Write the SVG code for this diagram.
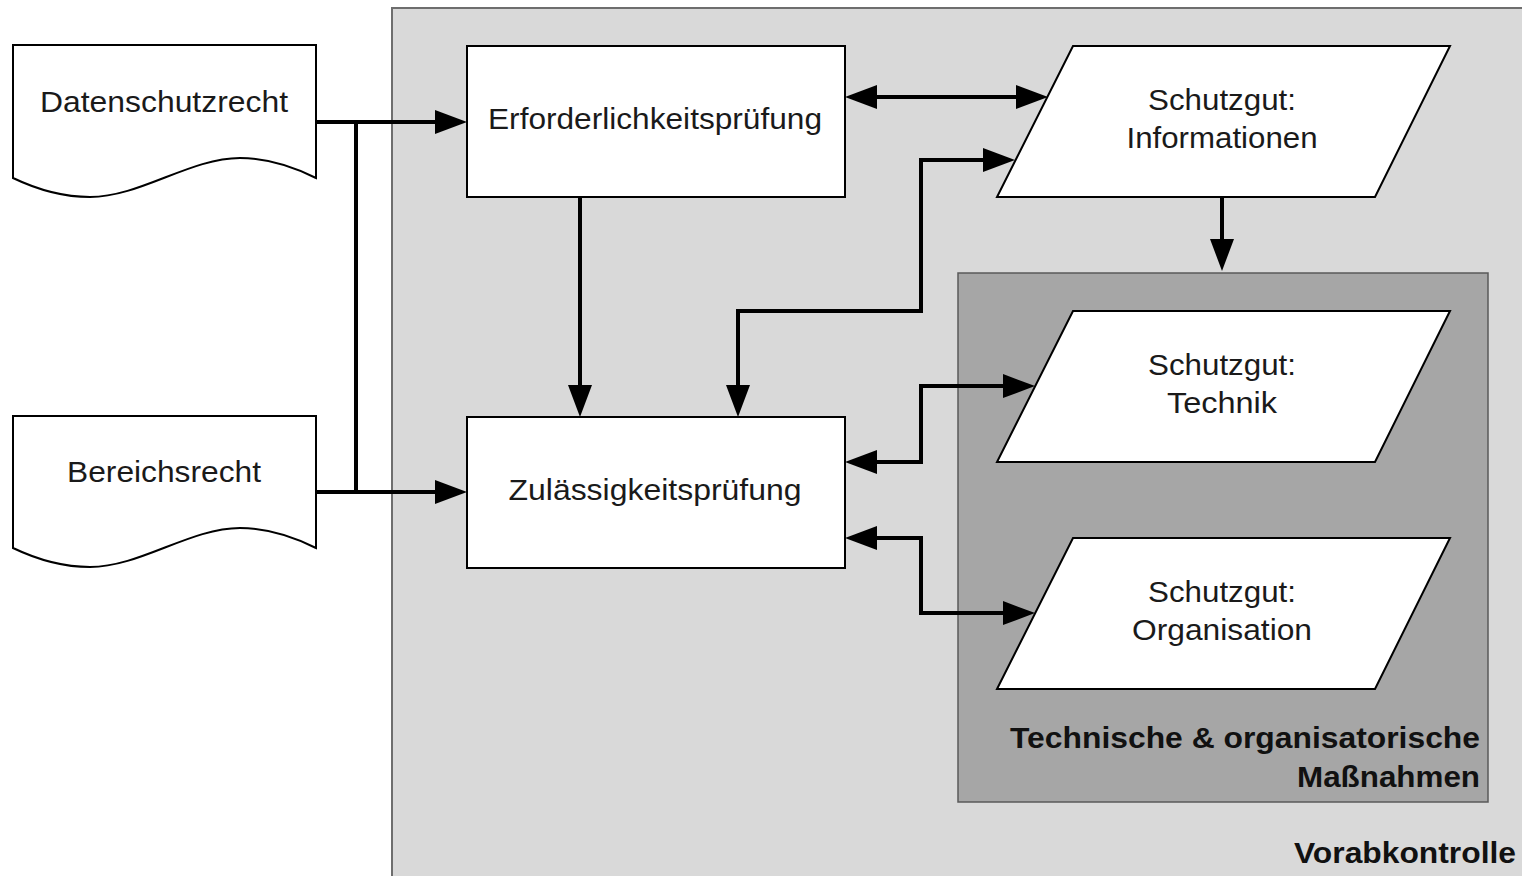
<svg xmlns="http://www.w3.org/2000/svg" width="1522" height="876" viewBox="0 0 1522 876">
<style>
.node{fill:#fff;stroke:#000;stroke-width:2}
.lbl{font-family:"Liberation Sans",Arial,sans-serif;font-size:29px;fill:#1a1a1a;text-anchor:middle}
.blbl{font-family:"Liberation Sans",Arial,sans-serif;font-size:29px;font-weight:bold;fill:#111;text-anchor:end}
.con{fill:none;stroke:#000;stroke-width:4}
</style>
<defs>
<marker id="arr" markerUnits="userSpaceOnUse" viewBox="0 0 32 24" markerWidth="32" markerHeight="24" refX="26" refY="12" orient="auto-start-reverse">
<path d="M0,0 L32,12 L0,24 Z" fill="#000"/>
</marker>
</defs>
<rect width="1522" height="876" fill="#fff"/>
<g id="vorabkontrolle">
<rect x="392" y="8" width="1150" height="890" fill="#d9d9d9" stroke="#6e6e6e" stroke-width="2"/>
<text class="blbl" x="1516" y="863" textLength="222" lengthAdjust="spacingAndGlyphs">Vorabkontrolle</text>
</g>
<g id="massnahmen">
<rect x="958" y="273" width="530" height="529" fill="#a6a6a6" stroke="#595959" stroke-width="1.5"/>
<text class="blbl" x="1480" y="748" textLength="470" lengthAdjust="spacingAndGlyphs">Technische &amp; organisatorische</text>
<text class="blbl" x="1480" y="787" textLength="183" lengthAdjust="spacingAndGlyphs">Maßnahmen</text>
</g>
<g id="datenschutzrecht">
<path class="node" d="M13,45 H316 V178 C292,166 266,158 240,158 C190,158 140,197 90,197 C60,197 36,189 13,178 Z"/>
<text class="lbl" x="164" y="112" textLength="248" lengthAdjust="spacingAndGlyphs">Datenschutzrecht</text>
</g>
<g id="bereichsrecht">
<path class="node" d="M13,416 H316 V548 C292,536 266,528 240,528 C190,528 140,567 90,567 C60,567 36,559 13,548 Z"/>
<text class="lbl" x="164" y="482" textLength="194" lengthAdjust="spacingAndGlyphs">Bereichsrecht</text>
</g>
<g id="erforderlichkeit">
<rect class="node" x="467" y="46" width="378" height="151"/>
<text class="lbl" x="655" y="129" textLength="334" lengthAdjust="spacingAndGlyphs">Erforderlichkeitsprüfung</text>
</g>
<g id="zulaessigkeit">
<rect class="node" x="467" y="417" width="378" height="151"/>
<text class="lbl" x="655" y="500" textLength="293" lengthAdjust="spacingAndGlyphs">Zulässigkeitsprüfung</text>
</g>
<g id="informationen">
<path class="node" d="M1073,46 H1450 L1375,197 H997 Z"/>
<text class="lbl" x="1222" y="110" textLength="148" lengthAdjust="spacingAndGlyphs">Schutzgut:</text>
<text class="lbl" x="1222" y="148" textLength="191" lengthAdjust="spacingAndGlyphs">Informationen</text>
</g>
<g id="technik">
<path class="node" d="M1073,311 H1450 L1375,462 H997 Z"/>
<text class="lbl" x="1222" y="375" textLength="148" lengthAdjust="spacingAndGlyphs">Schutzgut:</text>
<text class="lbl" x="1222" y="413" textLength="110" lengthAdjust="spacingAndGlyphs">Technik</text>
</g>
<g id="organisation">
<path class="node" d="M1073,538 H1450 L1375,689 H997 Z"/>
<text class="lbl" x="1222" y="602" textLength="148" lengthAdjust="spacingAndGlyphs">Schutzgut:</text>
<text class="lbl" x="1222" y="640" textLength="180" lengthAdjust="spacingAndGlyphs">Organisation</text>
</g>
<g id="connectors">
<path class="con" d="M316,122 H461" marker-end="url(#arr)"/>
<path class="con" d="M316,492 H461" marker-end="url(#arr)"/>
<path class="con" d="M356,120 V494"/>
<path class="con" d="M580,197 V411" marker-end="url(#arr)"/>
<path class="con" d="M851,97 H1042" marker-start="url(#arr)" marker-end="url(#arr)"/>
<path class="con" d="M738,411 V311 H921 V160 H1009" marker-start="url(#arr)" marker-end="url(#arr)"/>
<path class="con" d="M851,462 H921 V386 H1029" marker-start="url(#arr)" marker-end="url(#arr)"/>
<path class="con" d="M851,538 H921 V613 H1029" marker-start="url(#arr)" marker-end="url(#arr)"/>
<path class="con" d="M1222,197 V265" marker-end="url(#arr)"/>
</g>
</svg>
